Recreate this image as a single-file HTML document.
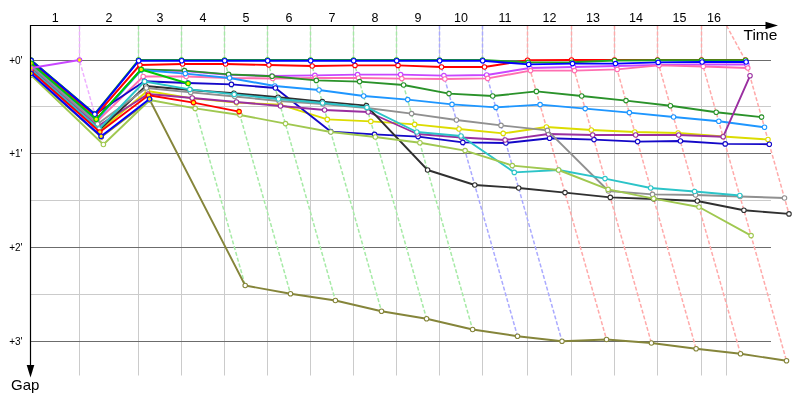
<!DOCTYPE html>
<html><head><meta charset="utf-8"><title>Gap chart</title>
<style>html,body{margin:0;padding:0;background:#fff;overflow:hidden}body{width:800px;height:400px}</style>
</head><body>
<svg width="800" height="400" viewBox="0 0 800 400" style="display:block;font-family:'Liberation Sans',sans-serif">
<rect width="800" height="400" fill="#fff"/>
<g stroke="#cbcbcb" stroke-width="1" fill="none">
<line x1="79.5" y1="25" x2="79.5" y2="375.5"/>
<line x1="138.5" y1="25" x2="138.5" y2="375.5"/>
<line x1="181.5" y1="25" x2="181.5" y2="375.5"/>
<line x1="224.5" y1="25" x2="224.5" y2="375.5"/>
<line x1="267.5" y1="25" x2="267.5" y2="375.5"/>
<line x1="310.5" y1="25" x2="310.5" y2="375.5"/>
<line x1="353.5" y1="25" x2="353.5" y2="375.5"/>
<line x1="396.5" y1="25" x2="396.5" y2="375.5"/>
<line x1="439.5" y1="25" x2="439.5" y2="375.5"/>
<line x1="482.5" y1="25" x2="482.5" y2="375.5"/>
<line x1="527.5" y1="25" x2="527.5" y2="375.5"/>
<line x1="571.5" y1="25" x2="571.5" y2="375.5"/>
<line x1="614.5" y1="25" x2="614.5" y2="375.5"/>
<line x1="657.5" y1="25" x2="657.5" y2="375.5"/>
<line x1="701.5" y1="25" x2="701.5" y2="375.5"/>
<line x1="726.5" y1="25" x2="726.5" y2="375.5"/>
<line x1="31" y1="106.5" x2="771" y2="106.5"/>
<line x1="31" y1="200.5" x2="771" y2="200.5"/>
<line x1="31" y1="294.5" x2="771" y2="294.5"/>
</g>
<g stroke="#6c6c6c" stroke-width="1" fill="none">
<line x1="31" y1="60.5" x2="771" y2="60.5"/>
<line x1="31" y1="153.5" x2="771" y2="153.5"/>
<line x1="31" y1="247.5" x2="771" y2="247.5"/>
<line x1="31" y1="341.5" x2="771" y2="341.5"/>
</g>
<g fill="none" stroke-width="1.5" stroke-dasharray="4 2">
<polyline stroke="#eeb0ff" points="79.5,25.5 79.5,60.5 103.4,144.5"/>
<polyline stroke="#a6eaa6" points="138.5,25.5 138.5,60.5 149.8,100.0"/>
<polyline stroke="#a6eaa6" points="181.5,25.5 181.5,60.5 245.2,285.5"/>
<polyline stroke="#a6eaa6" points="224.5,25.5 224.5,60.5 290.5,293.8"/>
<polyline stroke="#a6eaa6" points="267.5,25.5 267.5,60.5 335.4,300.5"/>
<polyline stroke="#a6eaa6" points="310.5,25.5 310.5,60.5 381.5,311.2"/>
<polyline stroke="#a6eaa6" points="353.5,25.5 353.5,60.5 426.6,318.8"/>
<polyline stroke="#a6eaa6" points="396.5,25.5 396.5,60.5 472.6,329.5"/>
<polyline stroke="#aaaaff" points="439.5,25.5 439.5,60.5 517.5,336.2"/>
<polyline stroke="#aaaaff" points="482.5,25.5 482.5,60.5 562.0,341.2"/>
<polyline stroke="#ffaaaa" points="527.5,25.5 527.5,60.5 606.5,339.5"/>
<polyline stroke="#ffaaaa" points="571.5,25.5 571.5,60.5 651.4,343.0"/>
<polyline stroke="#ffaaaa" points="614.5,25.5 614.5,60.5 696.1,348.8"/>
<polyline stroke="#ffaaaa" points="657.5,25.5 657.5,60.5 740.5,353.8"/>
<polyline stroke="#ffaaaa" points="701.5,25.5 701.5,60.5 786.5,360.8"/>
<polyline stroke="#ffaaaa" points="726.5,25.5 745.5,60.5 789.0,213.9"/>
</g>
<defs><clipPath id="c"><rect x="31" y="26" width="769" height="360"/></clipPath></defs>
<g clip-path="url(#c)">
<g stroke="#85853a" fill="#fff">
<polyline fill="none" stroke-width="1.9" stroke-linejoin="round" points="31.0,73.9 101.3,137.0 149.8,100.0 245.2,285.5 290.5,293.8 335.4,300.5 381.5,311.2 426.6,318.8 472.6,329.5 517.5,336.2 562.0,341.2 606.5,339.5 651.4,343.0 696.1,348.8 740.5,353.8 786.5,360.8"/>
<circle cx="31.0" cy="73.9" r="2.25" stroke-width="1.1"/>
<circle cx="101.3" cy="137.0" r="2.25" stroke-width="1.1"/>
<circle cx="149.8" cy="100.0" r="2.25" stroke-width="1.1"/>
<circle cx="245.2" cy="285.5" r="2.25" stroke-width="1.1"/>
<circle cx="290.5" cy="293.8" r="2.25" stroke-width="1.1"/>
<circle cx="335.4" cy="300.5" r="2.25" stroke-width="1.1"/>
<circle cx="381.5" cy="311.2" r="2.25" stroke-width="1.1"/>
<circle cx="426.6" cy="318.8" r="2.25" stroke-width="1.1"/>
<circle cx="472.6" cy="329.5" r="2.25" stroke-width="1.1"/>
<circle cx="517.5" cy="336.2" r="2.25" stroke-width="1.1"/>
<circle cx="562.0" cy="341.2" r="2.25" stroke-width="1.1"/>
<circle cx="606.5" cy="339.5" r="2.25" stroke-width="1.1"/>
<circle cx="651.4" cy="343.0" r="2.25" stroke-width="1.1"/>
<circle cx="696.1" cy="348.8" r="2.25" stroke-width="1.1"/>
<circle cx="740.5" cy="353.8" r="2.25" stroke-width="1.1"/>
<circle cx="786.5" cy="360.8" r="2.25" stroke-width="1.1"/>
</g>
<g stroke="#dcdc00" fill="#fff">
<polyline fill="none" stroke-width="1.9" stroke-linejoin="round" points="31.0,70.3 99.6,131.0 147.3,91.0 192.3,98.4 236.5,102.6 280.1,104.6 327.3,119.4 370.8,121.4 414.7,124.4 459.0,129.0 503.2,133.4 546.4,127.0 591.3,130.0 634.8,132.0 678.1,133.0 723.1,136.5 768.0,139.5"/>
<circle cx="31.0" cy="70.3" r="2.25" stroke-width="1.1"/>
<circle cx="99.6" cy="131.0" r="2.25" stroke-width="1.1"/>
<circle cx="147.3" cy="91.0" r="2.25" stroke-width="1.1"/>
<circle cx="192.3" cy="98.4" r="2.25" stroke-width="1.1"/>
<circle cx="236.5" cy="102.6" r="2.25" stroke-width="1.1"/>
<circle cx="280.1" cy="104.6" r="2.25" stroke-width="1.1"/>
<circle cx="327.3" cy="119.4" r="2.25" stroke-width="1.1"/>
<circle cx="370.8" cy="121.4" r="2.25" stroke-width="1.1"/>
<circle cx="414.7" cy="124.4" r="2.25" stroke-width="1.1"/>
<circle cx="459.0" cy="129.0" r="2.25" stroke-width="1.1"/>
<circle cx="503.2" cy="133.4" r="2.25" stroke-width="1.1"/>
<circle cx="546.4" cy="127.0" r="2.25" stroke-width="1.1"/>
<circle cx="591.3" cy="130.0" r="2.25" stroke-width="1.1"/>
<circle cx="634.8" cy="132.0" r="2.25" stroke-width="1.1"/>
<circle cx="678.1" cy="133.0" r="2.25" stroke-width="1.1"/>
<circle cx="723.1" cy="136.5" r="2.25" stroke-width="1.1"/>
<circle cx="768.0" cy="139.5" r="2.25" stroke-width="1.1"/>
</g>
<g stroke="#c846ff" fill="#fff">
<polyline fill="none" stroke-width="1.9" stroke-linejoin="round" points="31.0,63.7 96.5,120.0 141.3,69.8 184.6,71.0 228.7,74.8 272.0,76.0 314.9,75.4 357.6,74.6 400.6,74.6 443.9,75.6 486.7,75.0 529.8,68.0 573.5,67.0 616.2,66.0 658.9,65.0 702.8,64.5 746.8,64.5"/>
<circle cx="31.0" cy="63.7" r="2.25" stroke-width="1.1"/>
<circle cx="96.5" cy="120.0" r="2.25" stroke-width="1.1"/>
<circle cx="141.3" cy="69.8" r="2.25" stroke-width="1.1"/>
<circle cx="184.6" cy="71.0" r="2.25" stroke-width="1.1"/>
<circle cx="228.7" cy="74.8" r="2.25" stroke-width="1.1"/>
<circle cx="272.0" cy="76.0" r="2.25" stroke-width="1.1"/>
<circle cx="314.9" cy="75.4" r="2.25" stroke-width="1.1"/>
<circle cx="357.6" cy="74.6" r="2.25" stroke-width="1.1"/>
<circle cx="400.6" cy="74.6" r="2.25" stroke-width="1.1"/>
<circle cx="443.9" cy="75.6" r="2.25" stroke-width="1.1"/>
<circle cx="486.7" cy="75.0" r="2.25" stroke-width="1.1"/>
<circle cx="529.8" cy="68.0" r="2.25" stroke-width="1.1"/>
<circle cx="573.5" cy="67.0" r="2.25" stroke-width="1.1"/>
<circle cx="616.2" cy="66.0" r="2.25" stroke-width="1.1"/>
<circle cx="658.9" cy="65.0" r="2.25" stroke-width="1.1"/>
<circle cx="702.8" cy="64.5" r="2.25" stroke-width="1.1"/>
<circle cx="746.8" cy="64.5" r="2.25" stroke-width="1.1"/>
</g>
<g stroke="#ff6eb0" fill="#fff">
<polyline fill="none" stroke-width="1.9" stroke-linejoin="round" points="31.0,64.7 96.9,121.6 143.2,76.5 186.2,76.5 229.6,78.0 272.7,78.5 315.6,78.0 358.6,78.0 401.8,78.6 444.9,79.0 487.7,78.4 530.5,70.6 574.5,70.6 617.2,69.4 659.0,65.4 703.3,66.5 747.8,68.0"/>
<circle cx="31.0" cy="64.7" r="2.25" stroke-width="1.1"/>
<circle cx="96.9" cy="121.6" r="2.25" stroke-width="1.1"/>
<circle cx="143.2" cy="76.5" r="2.25" stroke-width="1.1"/>
<circle cx="186.2" cy="76.5" r="2.25" stroke-width="1.1"/>
<circle cx="229.6" cy="78.0" r="2.25" stroke-width="1.1"/>
<circle cx="272.7" cy="78.5" r="2.25" stroke-width="1.1"/>
<circle cx="315.6" cy="78.0" r="2.25" stroke-width="1.1"/>
<circle cx="358.6" cy="78.0" r="2.25" stroke-width="1.1"/>
<circle cx="401.8" cy="78.6" r="2.25" stroke-width="1.1"/>
<circle cx="444.9" cy="79.0" r="2.25" stroke-width="1.1"/>
<circle cx="487.7" cy="78.4" r="2.25" stroke-width="1.1"/>
<circle cx="530.5" cy="70.6" r="2.25" stroke-width="1.1"/>
<circle cx="574.5" cy="70.6" r="2.25" stroke-width="1.1"/>
<circle cx="617.2" cy="69.4" r="2.25" stroke-width="1.1"/>
<circle cx="659.0" cy="65.4" r="2.25" stroke-width="1.1"/>
<circle cx="703.3" cy="66.5" r="2.25" stroke-width="1.1"/>
<circle cx="747.8" cy="68.0" r="2.25" stroke-width="1.1"/>
</g>
<g stroke="#2a922a" fill="#fff">
<polyline fill="none" stroke-width="1.9" stroke-linejoin="round" points="31.0,63.4 96.3,119.5 141.2,69.4 184.5,70.6 228.6,74.4 272.1,76.2 316.3,80.4 359.6,81.6 403.6,85.0 449.0,93.6 492.7,96.0 536.4,91.4 581.7,96.0 626.0,100.6 670.4,105.7 716.2,112.2 761.6,117.1"/>
<circle cx="31.0" cy="63.4" r="2.25" stroke-width="1.1"/>
<circle cx="96.3" cy="119.5" r="2.25" stroke-width="1.1"/>
<circle cx="141.2" cy="69.4" r="2.25" stroke-width="1.1"/>
<circle cx="184.5" cy="70.6" r="2.25" stroke-width="1.1"/>
<circle cx="228.6" cy="74.4" r="2.25" stroke-width="1.1"/>
<circle cx="272.1" cy="76.2" r="2.25" stroke-width="1.1"/>
<circle cx="316.3" cy="80.4" r="2.25" stroke-width="1.1"/>
<circle cx="359.6" cy="81.6" r="2.25" stroke-width="1.1"/>
<circle cx="403.6" cy="85.0" r="2.25" stroke-width="1.1"/>
<circle cx="449.0" cy="93.6" r="2.25" stroke-width="1.1"/>
<circle cx="492.7" cy="96.0" r="2.25" stroke-width="1.1"/>
<circle cx="536.4" cy="91.4" r="2.25" stroke-width="1.1"/>
<circle cx="581.7" cy="96.0" r="2.25" stroke-width="1.1"/>
<circle cx="626.0" cy="100.6" r="2.25" stroke-width="1.1"/>
<circle cx="670.4" cy="105.7" r="2.25" stroke-width="1.1"/>
<circle cx="716.2" cy="112.2" r="2.25" stroke-width="1.1"/>
<circle cx="761.6" cy="117.1" r="2.25" stroke-width="1.1"/>
</g>
<g stroke="#1e96ff" fill="#fff">
<polyline fill="none" stroke-width="1.9" stroke-linejoin="round" points="31.0,63.8 96.5,120.2 141.3,70.0 185.3,73.6 229.6,78.0 274.8,86.0 319.0,90.0 363.7,96.0 407.7,99.6 452.0,104.4 495.9,107.4 540.1,104.6 585.2,108.6 629.4,112.6 673.6,117.0 718.8,121.2 764.5,127.3"/>
<circle cx="31.0" cy="63.8" r="2.25" stroke-width="1.1"/>
<circle cx="96.5" cy="120.2" r="2.25" stroke-width="1.1"/>
<circle cx="141.3" cy="70.0" r="2.25" stroke-width="1.1"/>
<circle cx="185.3" cy="73.6" r="2.25" stroke-width="1.1"/>
<circle cx="229.6" cy="78.0" r="2.25" stroke-width="1.1"/>
<circle cx="274.8" cy="86.0" r="2.25" stroke-width="1.1"/>
<circle cx="319.0" cy="90.0" r="2.25" stroke-width="1.1"/>
<circle cx="363.7" cy="96.0" r="2.25" stroke-width="1.1"/>
<circle cx="407.7" cy="99.6" r="2.25" stroke-width="1.1"/>
<circle cx="452.0" cy="104.4" r="2.25" stroke-width="1.1"/>
<circle cx="495.9" cy="107.4" r="2.25" stroke-width="1.1"/>
<circle cx="540.1" cy="104.6" r="2.25" stroke-width="1.1"/>
<circle cx="585.2" cy="108.6" r="2.25" stroke-width="1.1"/>
<circle cx="629.4" cy="112.6" r="2.25" stroke-width="1.1"/>
<circle cx="673.6" cy="117.0" r="2.25" stroke-width="1.1"/>
<circle cx="718.8" cy="121.2" r="2.25" stroke-width="1.1"/>
<circle cx="764.5" cy="127.3" r="2.25" stroke-width="1.1"/>
</g>
<g stroke="#1408c8" fill="#fff">
<polyline fill="none" stroke-width="1.9" stroke-linejoin="round" points="31.0,60.4 94.9,114.5 144.5,81.2 188.0,83.0 231.4,84.4 275.4,88.0 330.7,131.6 374.5,134.4 418.1,136.6 462.8,142.4 505.9,143.0 549.6,138.2 594.0,139.6 637.6,141.6 680.4,141.0 725.2,143.9 769.3,144.2"/>
<circle cx="31.0" cy="60.4" r="2.25" stroke-width="1.1"/>
<circle cx="94.9" cy="114.5" r="2.25" stroke-width="1.1"/>
<circle cx="144.5" cy="81.2" r="2.25" stroke-width="1.1"/>
<circle cx="188.0" cy="83.0" r="2.25" stroke-width="1.1"/>
<circle cx="231.4" cy="84.4" r="2.25" stroke-width="1.1"/>
<circle cx="275.4" cy="88.0" r="2.25" stroke-width="1.1"/>
<circle cx="330.7" cy="131.6" r="2.25" stroke-width="1.1"/>
<circle cx="374.5" cy="134.4" r="2.25" stroke-width="1.1"/>
<circle cx="418.1" cy="136.6" r="2.25" stroke-width="1.1"/>
<circle cx="462.8" cy="142.4" r="2.25" stroke-width="1.1"/>
<circle cx="505.9" cy="143.0" r="2.25" stroke-width="1.1"/>
<circle cx="549.6" cy="138.2" r="2.25" stroke-width="1.1"/>
<circle cx="594.0" cy="139.6" r="2.25" stroke-width="1.1"/>
<circle cx="637.6" cy="141.6" r="2.25" stroke-width="1.1"/>
<circle cx="680.4" cy="141.0" r="2.25" stroke-width="1.1"/>
<circle cx="725.2" cy="143.9" r="2.25" stroke-width="1.1"/>
<circle cx="769.3" cy="144.2" r="2.25" stroke-width="1.1"/>
</g>
<g stroke="#9a2ea0" fill="#fff">
<polyline fill="none" stroke-width="1.9" stroke-linejoin="round" points="31.0,67.3 98.1,126.0 148.1,94.0 192.2,98.0 236.4,102.0 280.5,106.0 324.6,110.0 368.2,112.0 417.4,134.0 461.4,137.5 505.1,140.0 548.4,134.0 592.7,135.0 635.7,135.0 678.7,135.0 723.2,136.7 750.0,75.8"/>
<circle cx="31.0" cy="67.3" r="2.25" stroke-width="1.1"/>
<circle cx="98.1" cy="126.0" r="2.25" stroke-width="1.1"/>
<circle cx="148.1" cy="94.0" r="2.25" stroke-width="1.1"/>
<circle cx="192.2" cy="98.0" r="2.25" stroke-width="1.1"/>
<circle cx="236.4" cy="102.0" r="2.25" stroke-width="1.1"/>
<circle cx="280.5" cy="106.0" r="2.25" stroke-width="1.1"/>
<circle cx="324.6" cy="110.0" r="2.25" stroke-width="1.1"/>
<circle cx="368.2" cy="112.0" r="2.25" stroke-width="1.1"/>
<circle cx="417.4" cy="134.0" r="2.25" stroke-width="1.1"/>
<circle cx="461.4" cy="137.5" r="2.25" stroke-width="1.1"/>
<circle cx="505.1" cy="140.0" r="2.25" stroke-width="1.1"/>
<circle cx="548.4" cy="134.0" r="2.25" stroke-width="1.1"/>
<circle cx="592.7" cy="135.0" r="2.25" stroke-width="1.1"/>
<circle cx="635.7" cy="135.0" r="2.25" stroke-width="1.1"/>
<circle cx="678.7" cy="135.0" r="2.25" stroke-width="1.1"/>
<circle cx="723.2" cy="136.7" r="2.25" stroke-width="1.1"/>
<circle cx="750.0" cy="75.8" r="2.25" stroke-width="1.1"/>
</g>
<g stroke="#303030" fill="#fff">
<polyline fill="none" stroke-width="1.9" stroke-linejoin="round" points="31.0,69.7 99.3,130.0 145.8,86.0 190.0,90.0 233.9,93.2 278.0,97.2 322.3,101.6 366.4,105.6 427.6,170.0 474.8,185.0 518.7,188.0 565.0,192.6 610.3,197.4 653.8,199.0 697.3,201.0 743.9,210.2 789.0,213.9"/>
<circle cx="31.0" cy="69.7" r="2.25" stroke-width="1.1"/>
<circle cx="99.3" cy="130.0" r="2.25" stroke-width="1.1"/>
<circle cx="145.8" cy="86.0" r="2.25" stroke-width="1.1"/>
<circle cx="190.0" cy="90.0" r="2.25" stroke-width="1.1"/>
<circle cx="233.9" cy="93.2" r="2.25" stroke-width="1.1"/>
<circle cx="278.0" cy="97.2" r="2.25" stroke-width="1.1"/>
<circle cx="322.3" cy="101.6" r="2.25" stroke-width="1.1"/>
<circle cx="366.4" cy="105.6" r="2.25" stroke-width="1.1"/>
<circle cx="427.6" cy="170.0" r="2.25" stroke-width="1.1"/>
<circle cx="474.8" cy="185.0" r="2.25" stroke-width="1.1"/>
<circle cx="518.7" cy="188.0" r="2.25" stroke-width="1.1"/>
<circle cx="565.0" cy="192.6" r="2.25" stroke-width="1.1"/>
<circle cx="610.3" cy="197.4" r="2.25" stroke-width="1.1"/>
<circle cx="653.8" cy="199.0" r="2.25" stroke-width="1.1"/>
<circle cx="697.3" cy="201.0" r="2.25" stroke-width="1.1"/>
<circle cx="743.9" cy="210.2" r="2.25" stroke-width="1.1"/>
<circle cx="789.0" cy="213.9" r="2.25" stroke-width="1.1"/>
</g>
<g stroke="#909090" fill="#fff">
<polyline fill="none" stroke-width="1.9" stroke-linejoin="round" points="31.0,66.1 97.6,124.0 146.4,88.0 190.7,92.4 234.8,96.5 279.1,101.0 322.9,104.0 367.1,108.0 411.6,113.6 456.4,120.0 501.0,125.4 547.4,130.4 608.5,191.0 652.5,194.4 695.6,195.0 740.1,196.5 784.5,198.0"/>
<circle cx="31.0" cy="66.1" r="2.25" stroke-width="1.1"/>
<circle cx="97.6" cy="124.0" r="2.25" stroke-width="1.1"/>
<circle cx="146.4" cy="88.0" r="2.25" stroke-width="1.1"/>
<circle cx="190.7" cy="92.4" r="2.25" stroke-width="1.1"/>
<circle cx="234.8" cy="96.5" r="2.25" stroke-width="1.1"/>
<circle cx="279.1" cy="101.0" r="2.25" stroke-width="1.1"/>
<circle cx="322.9" cy="104.0" r="2.25" stroke-width="1.1"/>
<circle cx="367.1" cy="108.0" r="2.25" stroke-width="1.1"/>
<circle cx="411.6" cy="113.6" r="2.25" stroke-width="1.1"/>
<circle cx="456.4" cy="120.0" r="2.25" stroke-width="1.1"/>
<circle cx="501.0" cy="125.4" r="2.25" stroke-width="1.1"/>
<circle cx="547.4" cy="130.4" r="2.25" stroke-width="1.1"/>
<circle cx="608.5" cy="191.0" r="2.25" stroke-width="1.1"/>
<circle cx="652.5" cy="194.4" r="2.25" stroke-width="1.1"/>
<circle cx="695.6" cy="195.0" r="2.25" stroke-width="1.1"/>
<circle cx="740.1" cy="196.5" r="2.25" stroke-width="1.1"/>
<circle cx="784.5" cy="198.0" r="2.25" stroke-width="1.1"/>
</g>
<g stroke="#2cc4c8" fill="#fff">
<polyline fill="none" stroke-width="1.9" stroke-linejoin="round" points="31.0,69.1 99.0,129.0 144.6,81.5 189.8,89.4 234.2,94.4 278.5,99.0 322.6,103.0 366.9,107.4 416.8,132.0 461.0,136.0 514.3,172.4 558.6,170.0 605.0,178.6 650.7,188.0 694.6,191.5 739.8,195.5"/>
<circle cx="31.0" cy="69.1" r="2.25" stroke-width="1.1"/>
<circle cx="99.0" cy="129.0" r="2.25" stroke-width="1.1"/>
<circle cx="144.6" cy="81.5" r="2.25" stroke-width="1.1"/>
<circle cx="189.8" cy="89.4" r="2.25" stroke-width="1.1"/>
<circle cx="234.2" cy="94.4" r="2.25" stroke-width="1.1"/>
<circle cx="278.5" cy="99.0" r="2.25" stroke-width="1.1"/>
<circle cx="322.6" cy="103.0" r="2.25" stroke-width="1.1"/>
<circle cx="366.9" cy="107.4" r="2.25" stroke-width="1.1"/>
<circle cx="416.8" cy="132.0" r="2.25" stroke-width="1.1"/>
<circle cx="461.0" cy="136.0" r="2.25" stroke-width="1.1"/>
<circle cx="514.3" cy="172.4" r="2.25" stroke-width="1.1"/>
<circle cx="558.6" cy="170.0" r="2.25" stroke-width="1.1"/>
<circle cx="605.0" cy="178.6" r="2.25" stroke-width="1.1"/>
<circle cx="650.7" cy="188.0" r="2.25" stroke-width="1.1"/>
<circle cx="694.6" cy="191.5" r="2.25" stroke-width="1.1"/>
<circle cx="739.8" cy="195.5" r="2.25" stroke-width="1.1"/>
</g>
<g stroke="#a0c850" fill="#fff">
<polyline fill="none" stroke-width="1.9" stroke-linejoin="round" points="31.0,75.2 103.4,144.5 149.8,100.0 195.2,108.4 240.0,115.0 285.5,123.6 330.8,132.0 375.3,137.0 419.9,142.8 465.1,150.6 512.3,165.6 558.6,170.0 608.1,189.4 653.7,198.6 699.0,207.0 751.1,235.6"/>
<circle cx="31.0" cy="75.2" r="2.25" stroke-width="1.1"/>
<circle cx="103.4" cy="144.5" r="2.25" stroke-width="1.1"/>
<circle cx="149.8" cy="100.0" r="2.25" stroke-width="1.1"/>
<circle cx="195.2" cy="108.4" r="2.25" stroke-width="1.1"/>
<circle cx="240.0" cy="115.0" r="2.25" stroke-width="1.1"/>
<circle cx="285.5" cy="123.6" r="2.25" stroke-width="1.1"/>
<circle cx="330.8" cy="132.0" r="2.25" stroke-width="1.1"/>
<circle cx="375.3" cy="137.0" r="2.25" stroke-width="1.1"/>
<circle cx="419.9" cy="142.8" r="2.25" stroke-width="1.1"/>
<circle cx="465.1" cy="150.6" r="2.25" stroke-width="1.1"/>
<circle cx="512.3" cy="165.6" r="2.25" stroke-width="1.1"/>
<circle cx="558.6" cy="170.0" r="2.25" stroke-width="1.1"/>
<circle cx="608.1" cy="189.4" r="2.25" stroke-width="1.1"/>
<circle cx="653.7" cy="198.6" r="2.25" stroke-width="1.1"/>
<circle cx="699.0" cy="207.0" r="2.25" stroke-width="1.1"/>
<circle cx="751.1" cy="235.6" r="2.25" stroke-width="1.1"/>
</g>
<g stroke="#ff0000" fill="#fff">
<polyline fill="none" stroke-width="1.9" stroke-linejoin="round" points="31.0,61.5 95.3,116.0 139.9,65.0 182.6,64.0 225.6,64.0 268.9,65.0 312.2,66.0 355.0,65.4 398.0,65.4 441.5,67.0 484.5,67.0 527.6,60.2 571.5,60.0 614.5,60.0 657.5,60.0 701.5,60.0 745.5,60.0"/>
<circle cx="31.0" cy="61.5" r="2.25" stroke-width="1.1"/>
<circle cx="95.3" cy="116.0" r="2.25" stroke-width="1.1"/>
<circle cx="139.9" cy="65.0" r="2.25" stroke-width="1.1"/>
<circle cx="182.6" cy="64.0" r="2.25" stroke-width="1.1"/>
<circle cx="225.6" cy="64.0" r="2.25" stroke-width="1.1"/>
<circle cx="268.9" cy="65.0" r="2.25" stroke-width="1.1"/>
<circle cx="312.2" cy="66.0" r="2.25" stroke-width="1.1"/>
<circle cx="355.0" cy="65.4" r="2.25" stroke-width="1.1"/>
<circle cx="398.0" cy="65.4" r="2.25" stroke-width="1.1"/>
<circle cx="441.5" cy="67.0" r="2.25" stroke-width="1.1"/>
<circle cx="484.5" cy="67.0" r="2.25" stroke-width="1.1"/>
<circle cx="527.6" cy="60.2" r="2.25" stroke-width="1.1"/>
<circle cx="571.5" cy="60.0" r="2.25" stroke-width="1.1"/>
<circle cx="614.5" cy="60.0" r="2.25" stroke-width="1.1"/>
<circle cx="657.5" cy="60.0" r="2.25" stroke-width="1.1"/>
<circle cx="701.5" cy="60.0" r="2.25" stroke-width="1.1"/>
<circle cx="745.5" cy="60.0" r="2.25" stroke-width="1.1"/>
</g>
<g stroke="#1ea81e" fill="#fff">
<polyline fill="none" stroke-width="1.9" stroke-linejoin="round" points="31.0,60.0 94.7,113.8 138.5,60.0 181.5,60.0 224.5,60.0 267.5,60.0 310.5,60.0 353.5,60.0 396.5,60.0 439.5,60.0 482.5,60.0 528.2,62.4 572.1,62.2 614.6,60.5 657.6,60.3 701.6,60.3 745.6,60.3"/>
<circle cx="31.0" cy="60.0" r="2.25" stroke-width="1.1"/>
<circle cx="94.7" cy="113.8" r="2.25" stroke-width="1.1"/>
<circle cx="138.5" cy="60.0" r="2.25" stroke-width="1.1"/>
<circle cx="181.5" cy="60.0" r="2.25" stroke-width="1.1"/>
<circle cx="224.5" cy="60.0" r="2.25" stroke-width="1.1"/>
<circle cx="267.5" cy="60.0" r="2.25" stroke-width="1.1"/>
<circle cx="310.5" cy="60.0" r="2.25" stroke-width="1.1"/>
<circle cx="353.5" cy="60.0" r="2.25" stroke-width="1.1"/>
<circle cx="396.5" cy="60.0" r="2.25" stroke-width="1.1"/>
<circle cx="439.5" cy="60.0" r="2.25" stroke-width="1.1"/>
<circle cx="482.5" cy="60.0" r="2.25" stroke-width="1.1"/>
<circle cx="528.2" cy="62.4" r="2.25" stroke-width="1.1"/>
<circle cx="572.1" cy="62.2" r="2.25" stroke-width="1.1"/>
<circle cx="614.6" cy="60.5" r="2.25" stroke-width="1.1"/>
<circle cx="657.6" cy="60.3" r="2.25" stroke-width="1.1"/>
<circle cx="701.6" cy="60.3" r="2.25" stroke-width="1.1"/>
<circle cx="745.6" cy="60.3" r="2.25" stroke-width="1.1"/>
</g>
<g stroke="#0000ff" fill="#fff">
<polyline fill="none" stroke-width="1.9" stroke-linejoin="round" points="31.0,60.5 94.8,114.3 138.7,60.8 181.7,60.8 224.7,60.8 267.7,60.8 310.7,60.8 353.7,60.8 396.7,60.8 439.7,60.8 482.7,60.8 528.7,64.4 572.5,63.6 615.5,63.6 658.2,62.4 702.1,62.0 746.1,62.0"/>
<circle cx="31.0" cy="60.5" r="2.25" stroke-width="1.1"/>
<circle cx="94.8" cy="114.3" r="2.25" stroke-width="1.1"/>
<circle cx="138.7" cy="60.8" r="2.25" stroke-width="1.1"/>
<circle cx="181.7" cy="60.8" r="2.25" stroke-width="1.1"/>
<circle cx="224.7" cy="60.8" r="2.25" stroke-width="1.1"/>
<circle cx="267.7" cy="60.8" r="2.25" stroke-width="1.1"/>
<circle cx="310.7" cy="60.8" r="2.25" stroke-width="1.1"/>
<circle cx="353.7" cy="60.8" r="2.25" stroke-width="1.1"/>
<circle cx="396.7" cy="60.8" r="2.25" stroke-width="1.1"/>
<circle cx="439.7" cy="60.8" r="2.25" stroke-width="1.1"/>
<circle cx="482.7" cy="60.8" r="2.25" stroke-width="1.1"/>
<circle cx="528.7" cy="64.4" r="2.25" stroke-width="1.1"/>
<circle cx="572.5" cy="63.6" r="2.25" stroke-width="1.1"/>
<circle cx="615.5" cy="63.6" r="2.25" stroke-width="1.1"/>
<circle cx="658.2" cy="62.4" r="2.25" stroke-width="1.1"/>
<circle cx="702.1" cy="62.0" r="2.25" stroke-width="1.1"/>
<circle cx="746.1" cy="62.0" r="2.25" stroke-width="1.1"/>
</g>
<g stroke="#ff0000" fill="#ffee00">
<polyline fill="none" stroke-width="1.9" stroke-linejoin="round" points="31.0,70.9 99.8,132.0 148.5,95.3 193.5,102.6 239.1,111.6"/>
<circle cx="31.0" cy="70.9" r="2.25" stroke-width="1.1"/>
<circle cx="99.8" cy="132.0" r="2.25" stroke-width="1.1"/>
<circle cx="148.5" cy="95.3" r="2.25" stroke-width="1.1"/>
<circle cx="193.5" cy="102.6" r="2.25" stroke-width="1.1"/>
<circle cx="239.1" cy="111.6" r="2.25" stroke-width="1.1"/>
</g>
<g stroke="#0000ff" fill="#ffee00">
<polyline fill="none" stroke-width="1.9" stroke-linejoin="round" points="31.0,73.5 101.1,136.3 149.5,99.0"/>
<circle cx="31.0" cy="73.5" r="2.25" stroke-width="1.1"/>
<circle cx="101.1" cy="136.3" r="2.25" stroke-width="1.1"/>
<circle cx="149.5" cy="99.0" r="2.25" stroke-width="1.1"/>
</g>
<g stroke="#00c800" fill="#ffee00">
<polyline fill="none" stroke-width="1.9" stroke-linejoin="round" points="31.0,63.2 96.2,119.2 141.2,69.5 188.1,83.5"/>
<circle cx="31.0" cy="63.2" r="2.25" stroke-width="1.1"/>
<circle cx="96.2" cy="119.2" r="2.25" stroke-width="1.1"/>
<circle cx="141.2" cy="69.5" r="2.25" stroke-width="1.1"/>
<circle cx="188.1" cy="83.5" r="2.25" stroke-width="1.1"/>
</g>
<g stroke="#c846ff" fill="#ffee00">
<polyline fill="none" stroke-width="1.9" stroke-linejoin="round" points="31.0,68.0 79.5,60.0"/>
<circle cx="31.0" cy="68.0" r="2.25" stroke-width="1.1"/>
<circle cx="79.5" cy="60.0" r="2.25" stroke-width="1.1"/>
</g>
</g>
<g stroke="#000" stroke-width="1.2" fill="none">
<line x1="30" y1="25.5" x2="768" y2="25.5"/>
<line x1="30.5" y1="25" x2="30.5" y2="367"/>
</g>
<polygon points="778,25.5 765.5,21.7 765.5,29.3" fill="#000"/>
<polygon points="30.5,377.5 26.7,365 34.3,365" fill="#000"/>
<g font-size="12.5px" fill="#000" text-anchor="middle">
<text x="55.2" y="22">1</text>
<text x="109.0" y="22">2</text>
<text x="160.0" y="22">3</text>
<text x="203.0" y="22">4</text>
<text x="246.0" y="22">5</text>
<text x="289.0" y="22">6</text>
<text x="332.0" y="22">7</text>
<text x="375.0" y="22">8</text>
<text x="418.0" y="22">9</text>
<text x="461.0" y="22">10</text>
<text x="505.0" y="22">11</text>
<text x="549.5" y="22">12</text>
<text x="593.0" y="22">13</text>
<text x="636.0" y="22">14</text>
<text x="679.5" y="22">15</text>
<text x="714.0" y="22">16</text>
</g>
<g font-size="10px" fill="#000" text-anchor="end">
<text x="22.5" y="63.9">+0'</text>
<text x="22.5" y="156.9">+1'</text>
<text x="22.5" y="250.9">+2'</text>
<text x="22.5" y="344.9">+3'</text>
</g>
<text x="743.5" y="40" font-size="15.5px" fill="#000">Time</text>
<text x="11" y="390" font-size="15px" fill="#000">Gap</text>
</svg>
</body></html>
